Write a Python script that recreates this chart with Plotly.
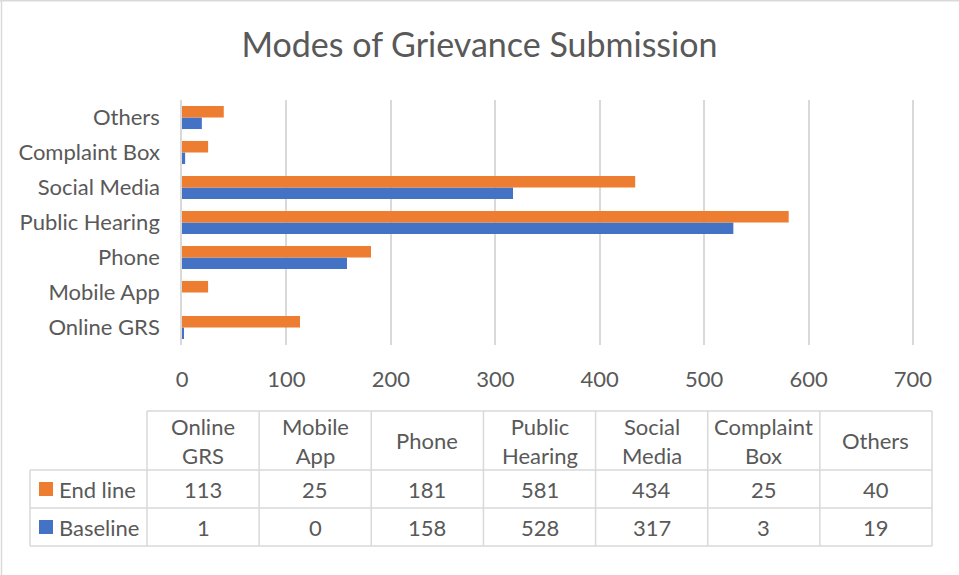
import plotly.graph_objects as go

categories = ["Online GRS", "Mobile App", "Phone", "Public Hearing", "Social Media", "Complaint Box", "Others"]
header_labels = ["Online<br>GRS", "Mobile<br>App", "Phone", "Public<br>Hearing", "Social<br>Media", "Complaint<br>Box", "Others"]
end_line = [113, 25, 181, 581, 434, 25, 40]
baseline = [1, 0, 158, 528, 317, 3, 19]
x_ticks = [0, 100, 200, 300, 400, 500, 600, 700]

W, H = 959, 575
L, R, T, B = 182, 914, 100, 345
FONT = "Lato, Calibri, Carlito, sans-serif"
TXT = "#595959"
GRID = "#d9d9d9"
ORANGE = "#ED7D31"
BLUE = "#4472C4"
FS = 22

def px(x):
    return (x - L) / (R - L)

def py(y):
    return (B - y) / (B - T)

fig = go.Figure()
fig.add_trace(go.Bar(y=categories, x=baseline, orientation="h", name="Baseline",
                     marker=dict(color=BLUE, line=dict(width=0))))
fig.add_trace(go.Bar(y=categories, x=end_line, orientation="h", name="End line",
                     marker=dict(color=ORANGE, line=dict(width=0))))

fig.update_layout(
    width=W, height=H,
    margin=dict(l=L, r=W - R, t=T, b=H - B),
    paper_bgcolor="white", plot_bgcolor="white",
    barmode="group", bargap=0.34, bargroupgap=0,
    showlegend=False,
    font=dict(family=FONT, color=TXT, size=FS),
    title=dict(text="Modes of Grievance Submission", x=0.5, xanchor="center",
               y=1 - 45 / H, yanchor="middle", font=dict(size=34, color=TXT, family=FONT)),
)
fig.update_xaxes(range=[0, 701], tickvals=x_ticks, showgrid=True, gridcolor=GRID, gridwidth=1.5,
                 zeroline=False, showline=False, ticks="", ticklabelstandoff=19,
                 tickfont=dict(size=FS, color=TXT))
fig.update_yaxes(categoryorder="array", categoryarray=categories, showgrid=False,
                 showline=True, linecolor=GRID, linewidth=1.5, ticks="", ticklabelstandoff=16,
                 tickfont=dict(size=FS, color=TXT))

# table geometry (pixels)
col0 = 147
colw = (932 - 147) / len(categories)
leg_left = 30
y_top, y_h, y_r1, y_r2 = 411, 470, 508, 546

shapes = []
def line(x0, y0, x1, y1):
    shapes.append(dict(type="line", xref="paper", yref="paper", x0=px(x0), y0=py(y0),
                       x1=px(x1), y1=py(y1), line=dict(color=GRID, width=1.5)))

line(col0, y_top, 932, y_top)
for yy in (y_h, y_r1, y_r2):
    line(leg_left, yy, 932, yy)
line(leg_left, y_h, leg_left, y_r2)
for i in range(len(categories) + 1):
    xx = col0 + i * colw
    line(xx, y_top, xx, y_r2)

# chart border
line(1.5, 0, 1.5, H)
line(0, 0.75, W, 0.75)

annotations = []
def text(x, y, s, anchor="center", size=FS):
    annotations.append(dict(x=px(x), y=py(y), xref="paper", yref="paper", text=s,
                            showarrow=False, xanchor=anchor, yanchor="middle",
                            font=dict(family=FONT, size=size, color=TXT)))

for i, lab in enumerate(header_labels):
    cx = col0 + (i + 0.5) * colw
    text(cx, (y_top + y_h) / 2, lab)
    text(cx, (y_h + y_r1) / 2, str(end_line[i]))
    text(cx, (y_r1 + y_r2) / 2, str(baseline[i]))

series = [("End line", ORANGE, (y_h + y_r1) / 2), ("Baseline", BLUE, (y_r1 + y_r2) / 2)]
for name, color, cy in series:
    shapes.append(dict(type="rect", xref="paper", yref="paper", x0=px(39), x1=px(53),
                       y0=py(cy - 7), y1=py(cy + 7), fillcolor=color, line=dict(width=0)))
    text(57, cy, name, anchor="left")

fig.update_layout(shapes=shapes, annotations=annotations)
fig.write_html("out.html", config={"displayModeBar": False},
               post_script="document.body.style.margin='0';document.body.style.padding='0';")
